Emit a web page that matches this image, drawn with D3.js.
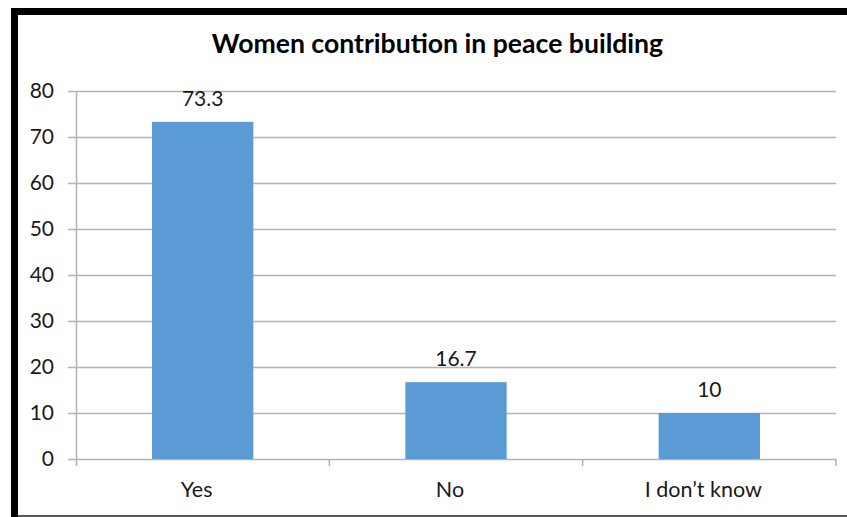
<!DOCTYPE html>
<html><head><meta charset="utf-8">
<script src="https://cdn.jsdelivr.net/npm/d3@7"></script>
<style>html,body{margin:0;padding:0;background:#fff;}svg{display:block;}</style>
</head><body>
<script>
const categories = ["Yes", "No", "I don\u2019t know"];
const values = [73.3, 16.7, 10];
const valueLabels = ["73.3", "16.7", "10"];
const yTicks = [0, 10, 20, 30, 40, 50, 60, 70, 80];
const title = "Women contribution in peace building";

const W = 847, H = 517;
const svg = d3.select("body").append("svg").attr("width", W).attr("height", H);
svg.append("rect").attr("width", W).attr("height", H).attr("fill", "#fff");
// frame
svg.append("rect").attr("x", 11).attr("y", 8).attr("width", W - 11).attr("height", 7).attr("fill", "#000");
svg.append("rect").attr("x", 11).attr("y", 8).attr("width", 7).attr("height", H - 8).attr("fill", "#000");
svg.append("rect").attr("x", 18).attr("y", 515).attr("width", W - 18).attr("height", 2).attr("fill", "#595959");

const x0 = 76, x1 = 836, yTop = 91, yBot = 459;
const x = d3.scaleBand().domain(categories).range([x0, x1]).paddingInner(0.6).paddingOuter(0.3);
const y = d3.scaleLinear().domain([0, 80]).range([yBot, yTop]);
const font = "Lato, 'Open Sans', sans-serif";
const grid = "#b3b3b3";

// gridlines
svg.append("g").selectAll("line").data(yTicks).join("line")
  .attr("x1", x0 - 8).attr("x2", x1).attr("y1", d => Math.round(y(d)) + 0.5).attr("y2", d => Math.round(y(d)) + 0.5)
  .attr("stroke", grid).attr("stroke-width", 1.5);

// y axis line
svg.append("line").attr("x1", x0 + 0.5).attr("x2", x0 + 0.5).attr("y1", yTop).attr("y2", yBot + 7)
  .attr("stroke", grid).attr("stroke-width", 1.5);

// x ticks at boundaries
const step = x.step();
const bounds = d3.range(categories.length + 1).map(i => x0 + i * step);
svg.append("g").selectAll("line").data(bounds.slice(1)).join("line")
  .attr("x1", d => d).attr("x2", d => d).attr("y1", yBot).attr("y2", yBot + 7)
  .attr("stroke", grid).attr("stroke-width", 1.5);

// y tick labels
svg.append("g").selectAll("text").data(yTicks).join("text")
  .attr("x", 54).attr("y", d => y(d)).attr("dy", "0.35em").attr("text-anchor", "end")
  .attr("font-family", font).attr("font-size", 21).attr("fill", "#1a1a1a").text(d => d);

// bars
svg.append("g").selectAll("rect").data(values).join("rect")
  .attr("x", (d, i) => x(categories[i])).attr("width", x.bandwidth())
  .attr("y", d => y(d)).attr("height", d => yBot - y(d)).attr("fill", "#5B9BD5");

// value labels
svg.append("g").selectAll("text").data(values).join("text")
  .attr("x", (d, i) => x(categories[i]) + x.bandwidth() / 2).attr("y", d => y(d) - 16)
  .attr("text-anchor", "middle").attr("font-family", font).attr("font-size", 21).attr("fill", "#1a1a1a")
  .text((d, i) => valueLabels[i]);

// x labels
svg.append("g").selectAll("text").data(categories).join("text")
  .attr("x", d => x(d) + x.bandwidth() / 2 - 6).attr("y", 497)
  .attr("text-anchor", "middle").attr("font-family", font).attr("font-size", 21.5).attr("fill", "#1a1a1a")
  .text(d => d);

// title
svg.append("text").attr("x", 437.5).attr("y", 53).attr("text-anchor", "middle")
  .attr("font-family", font).attr("font-weight", "bold").attr("font-size", 26.6).attr("fill", "#000")
  .text(title);
</script>
</body></html>
